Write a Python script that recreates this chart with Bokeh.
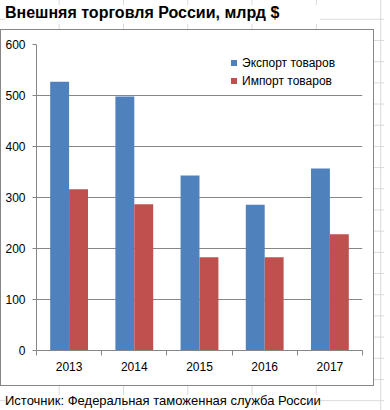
from bokeh.plotting import figure
from bokeh.models import (Range1d, FixedTicker, ColumnDataSource, Legend, LegendItem, Div, Column)
from bokeh.embed import file_html
from bokeh.resources import INLINE

# ---- data ----
years = ["2013", "2014", "2015", "2016", "2017"]
exports = [527, 498, 343, 286, 357]
imports = [316, 287, 183, 183, 228]
y_ticks = [0, 100, 200, 300, 400, 500, 600]
series_names = ["Экспорт товаров", "Импорт товаров"]
title_text = "Внешняя торговля России, млрд $"
source_text = "Источник: Федеральная таможенная служба России"

EXP_COLOR = "#4F81BD"
IMP_COLOR = "#C0504D"
AXIS_GRAY = "#868686"
FONT = "Liberation Sans"

n = len(years)
centers = [i + 0.5 for i in range(n)]
bar_w = 0.29
src = ColumnDataSource(dict(
    xe=[c - bar_w / 2 for c in centers],
    xi=[c + bar_w / 2 for c in centers],
    exp=exports, imp=imports))

p = figure(width=374, height=357, x_range=Range1d(0, n), y_range=Range1d(0, 600),
           output_backend="svg", toolbar_location=None,
           min_border_left=36, min_border_right=12, min_border_top=15, min_border_bottom=36)
p.border_fill_color = None
p.background_fill_color = None
p.outline_line_color = None
p.styles = {"background-color": "white", "box-shadow": "inset 0 0 0 1px #868686"}

p.vbar(x="xe", top="exp", width=bar_w, source=src, fill_color=EXP_COLOR, line_color=None)
p.vbar(x="xi", top="imp", width=bar_w, source=src, fill_color=IMP_COLOR, line_color=None)

# legend proxies (square markers placed outside the visible range)
proxy = ColumnDataSource(dict(x=[-10], y=[-10]))
r_e = p.scatter(x="x", y="y", source=proxy, marker="square", size=6, fill_color=EXP_COLOR, line_color=None)
r_i = p.scatter(x="x", y="y", source=proxy, marker="square", size=6, fill_color=IMP_COLOR, line_color=None)
legend = Legend(items=[LegendItem(label=series_names[0], renderers=[r_e]),
                       LegendItem(label=series_names[1], renderers=[r_i])],
                location=(190, 262), padding=0, margin=0, spacing=3,
                glyph_width=15, glyph_height=15, label_standoff=1,
                border_line_color=None, background_fill_alpha=0,
                label_text_font=FONT, label_text_font_size="12px", label_text_color="#000000")
p.add_layout(legend)

# grid
p.xgrid.visible = False
p.ygrid.ticker = FixedTicker(ticks=y_ticks)
p.ygrid.grid_line_color = AXIS_GRAY

# y axis
ya = p.yaxis[0]
ya.ticker = FixedTicker(ticks=y_ticks)
ya.axis_line_color = AXIS_GRAY
ya.major_tick_line_color = AXIS_GRAY
ya.major_tick_out = 4
ya.major_tick_in = 0
ya.minor_tick_line_color = None
ya.major_label_standoff = 7
ya.major_label_text_font = FONT
ya.major_label_text_font_size = "12px"
ya.major_label_text_color = "#000000"

# x axis
xa = p.xaxis[0]
xa.ticker = FixedTicker(ticks=centers, minor_ticks=list(range(n + 1)))
xa.major_label_overrides = {c: y for c, y in zip(centers, years)}
xa.axis_line_color = AXIS_GRAY
xa.major_tick_line_color = None
xa.major_tick_out = 0
xa.major_tick_in = 0
xa.minor_tick_line_color = AXIS_GRAY
xa.minor_tick_out = 5
xa.minor_tick_in = 0
xa.major_label_standoff = 6
xa.major_label_text_font = FONT
xa.major_label_text_font_size = "12px"
xa.major_label_text_color = "#000000"

title = Div(text=title_text, width=315, height=19,
            styles={"font-family": FONT, "font-size": "16px", "font-weight": "bold",
                    "line-height": "1", "color": "#000000", "background-color": "white",
                    "white-space": "nowrap"})
source = Div(text=source_text, width=374, height=18,
             styles={"font-family": FONT, "font-size": "13px", "line-height": "20px",
                     "color": "#000000", "white-space": "nowrap",
                     "background-image": "linear-gradient(to bottom, transparent 4px, #ffffff 4px)",
                     "background-size": "315px 100%", "background-repeat": "no-repeat"})

layout = Column(children=[title, p, source], spacing=0,
                styles={"background-image": "linear-gradient(to right, #d9d9d9 1px, transparent 1px), "
                                            "linear-gradient(to bottom, #d9d9d9 1px, transparent 1px)",
                        "background-size": "64.3px 21.2px",
                        "background-position": "58.7px 18.8px"})

open("out.html", "w").write(file_html(layout, INLINE))
